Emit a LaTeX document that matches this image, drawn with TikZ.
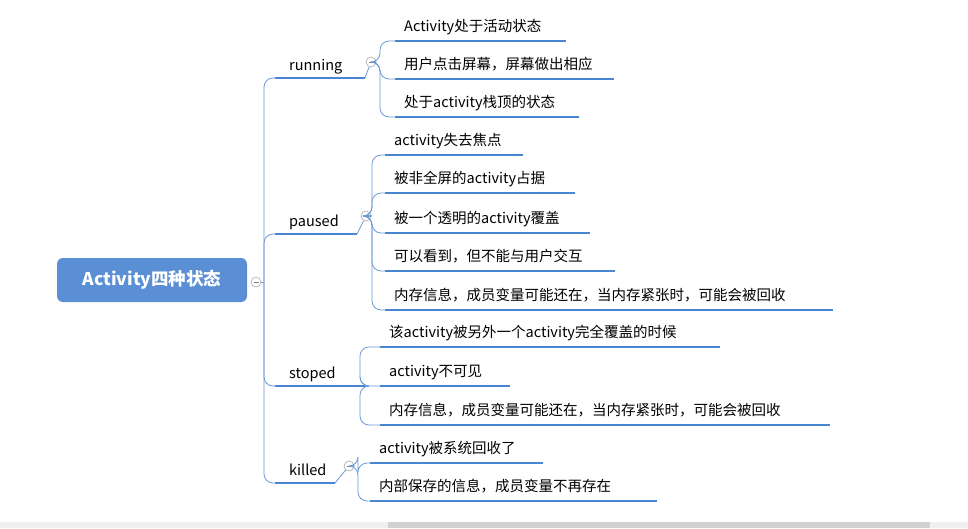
\documentclass[tikz,border=0pt]{standalone}
\usepackage{fontspec}
\setmainfont{Noto Sans CJK SC}
\begin{document}
\begin{tikzpicture}[x=1pt,y=-1pt,
  lk/.style={draw=lnc, line width=0.8pt, rounded corners=9pt},
  ul/.style={draw=ulc, line width=1.8pt},
  tx/.style={anchor=base west, inner sep=0pt, font=\fontsize{14.5}{16}\selectfont},
  col/.style={circle, draw=gray!70, fill=white, inner sep=0pt, minimum size=10pt, line width=0.6pt,
    path picture={\draw[gray, line width=0.6pt] ([xshift=-2.5pt]path picture bounding box.center) -- ([xshift=2.5pt]path picture bounding box.center);}}]
\definecolor{rootc}{HTML}{5B8FD5}
\definecolor{lnc}{HTML}{6A9AD8}
\definecolor{ulc}{HTML}{4A86D0}
\useasboundingbox (0,0) rectangle (968,528);
\fill[gray!12] (0,522) rectangle (968,528);
\fill[gray!35] (388,522) rectangle (930,528);
\node[fill=rootc, rounded corners=6pt, minimum width=190pt, minimum height=44pt, text=white, font=\fontsize{17.5}{20}\selectfont\bfseries] (root) at (152,280) {Activity四种状态};
\node[col] (rc) at (256,282) {};
\coordinate (rj) at (264,282);
\draw[lk] (rc.east) -- (rj);
% branches
\foreach \n/\t/\y/\e in {b1/running/78/365, b2/paused/234/357, b3/stoped/386/365, b4/killed/483/335}{
  \node[tx] (\n) at (289,\y-8) {\t};
  \coordinate (\n s) at (275,\y);
  \coordinate (\n e) at (\e,\y);
  \draw[ul] (\n s) -- (\n e);
  \draw[lk] (rj) -- (264,\y) -- (\n s);
}
\node[col] (c1) at (371,62) {};
\node[col] (c2) at (366,216) {};
\node[col] (c4) at (349,466) {};
\draw[lk] (b1e) -- (c1);\draw[lk] (b2e) -- (c2);\draw[lk] (b4e) -- (c4);
% children
\foreach \n/\t/\y/\x/\e/\v/\j in {
 r1/Activity处于活动状态/41/395/566/380/c1,
 r2/用户点击屏幕，屏幕做出相应/79/395/614/380/c1,
 r3/处于activity栈顶的状态/117/395/579/380/c1,
 p1/activity失去焦点/155/385/523/372/c2,
 p2/被非全屏的activity占据/193/385/575/372/c2,
 p3/被一个透明的activity覆盖/233/385/590/372/c2,
 p4/可以看到，但不能与用户交互/271/385/615/372/c2,
 p5/内存信息，成员变量可能还在，当内存紧张时，可能会被回收/310/385/833/372/c2,
 s1/该activity被另外一个activity完全覆盖的时候/347/380/720/360/b3e,
 s2/activity不可见/386/380/510/360/b3e,
 s3/内存信息，成员变量可能还在，当内存紧张时，可能会被回收/425/380/830/360/b3e,
 k1/activity被系统回收了/463/370/543/358/c4,
 k2/内部保存的信息，成员变量不再存在/501/370/657/358/c4}{
  \node[tx] (\n) at (\x+9,\y-10) {\t};
  \coordinate (\n s) at (\x,\y);
  \draw[ul] (\n s) -- (\e,\y);
  \draw[lk] (\j) -| (\v,\y) -- (\n s);
}
\end{tikzpicture}
\end{document}
